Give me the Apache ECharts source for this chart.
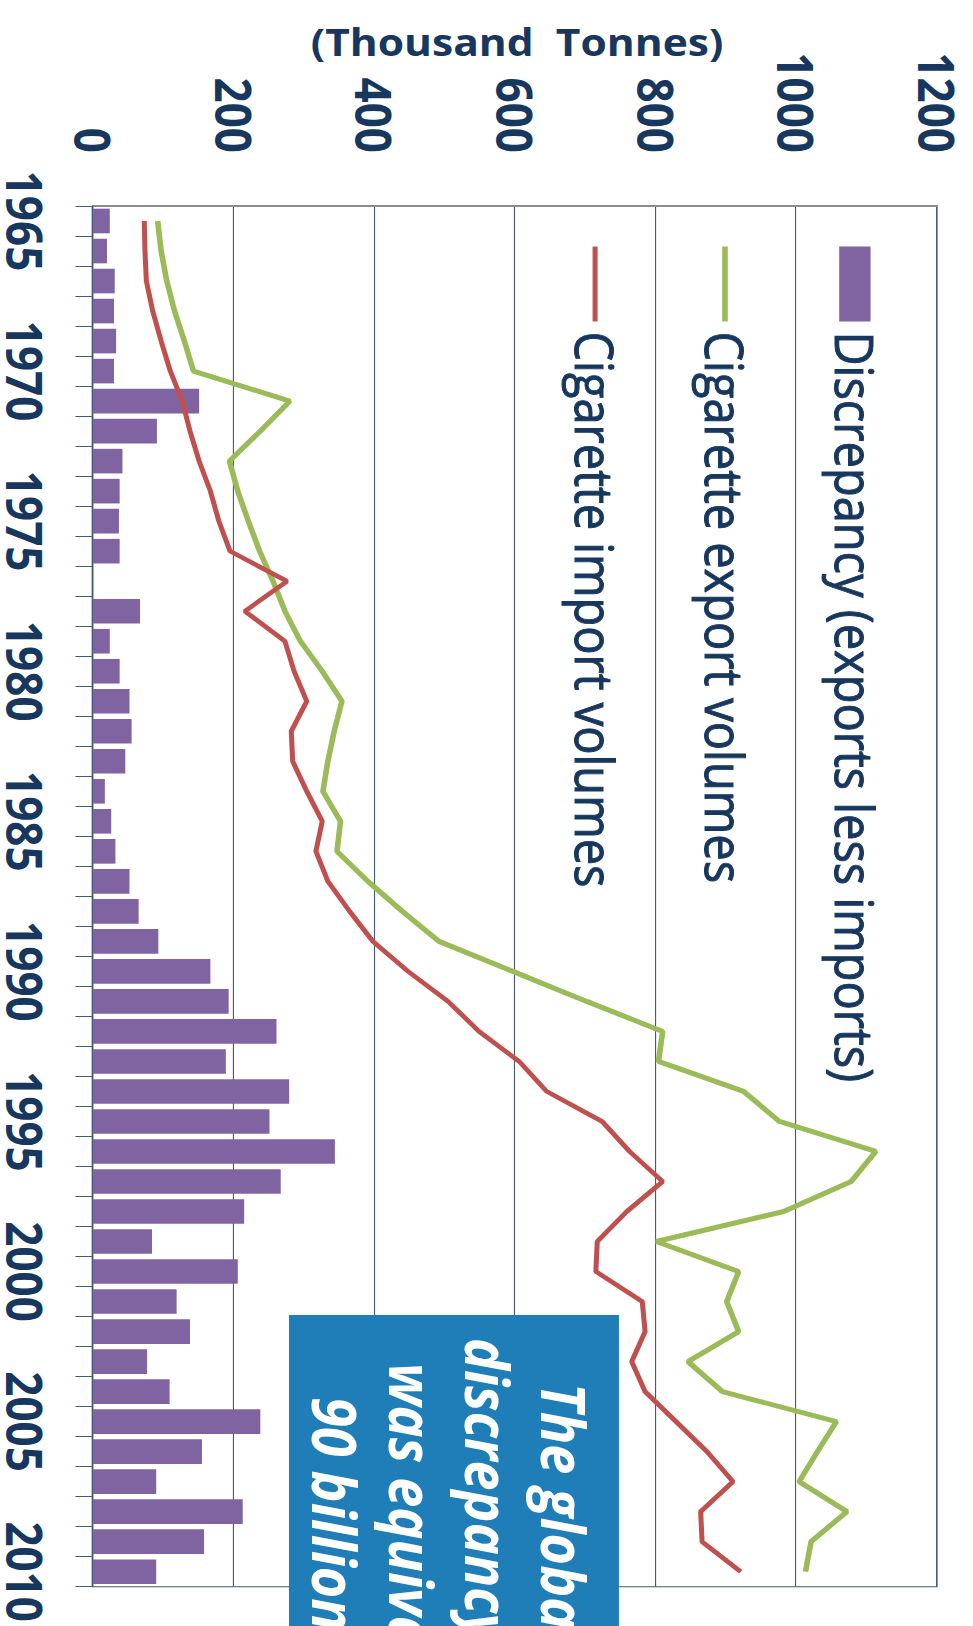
<!DOCTYPE html>
<html>
<head>
<meta charset="utf-8">
<script src="https://cdn.jsdelivr.net/npm/echarts@6/dist/echarts.min.js"></script>
<style>
html,body{margin:0;padding:0;overflow:hidden;background:#fff;width:973px;height:1626px;}
#wrap{position:absolute;left:0;top:0;width:1626px;height:869px;transform-origin:0 0;
transform:translateX(973px) rotate(90deg) scale(1,1.1197);}
</style>
</head>
<body>
<div id="wrap"></div>
<script>
const years = ['1965','1966','1967','1968','1969','1970','1971','1972','1973','1974',
  '1975','1976','1977','1978','1979','1980','1981','1982','1983','1984',
  '1985','1986','1987','1988','1989','1990','1991','1992','1993','1994',
  '1995','1996','1997','1998','1999','2000','2001','2002','2003','2004',
  '2005','2006','2007','2008','2009','2010'];
const discrepancy = [24,20,31,30,33,30,151,91,42,38,
  37,38,0,67,24,38,52,55,46,17,
  26,32,52,65,93,167,193,261,189,279,
  251,344,267,215,84,206,119,138,77,109,
  238,155,90,213,158,90];
const exportsVol = [92,97,105,116,130,143,280,238,194,206,
  221,237,256,273,295,326,354,343,334,327,
  352,347,391,440,492,597,702,810,804,925,
  976,1113,1078,982,801,918,901,918,846,895,
  1057,1030,1004,1072,1021,1013];
const importsVol = [73,74,76,85,97,110,127,138,151,167,
  179,195,276,216,273,286,304,282,284,304,
  326,317,334,365,398,448,505,549,606,645,
  724,763,810,759,717,715,781,785,766,785,
  829,873,910,864,866,921];
const seriesNames = ['Discrepancy (exports less imports)','Cigarette export volumes','Cigarette import volumes'];
const axisTitle = '(Thousand  Tonnes)';
const noteLines = ['The global','discrepancy in 2010','was equivalent to','90 billion cigarettes'];

const navy = '#17375E';
const gridCol = '#46597A';
const font = "'Open Sans', 'Noto Sans', sans-serif";

const chart = echarts.init(document.getElementById('wrap'), null, {renderer:'svg', width:1626, height:869});
chart.setOption({
  animation:false,
  backgroundColor:'#ffffff',
  grid:{left:206, right:39.3, top:32.15, bottom:79.1, show:true, borderColor:gridCol, borderWidth:1, containLabel:false},
  legend:{
    orient:'vertical', left:239, top:76.5, itemWidth:75, itemHeight:28, itemGap:68,
    lineStyle:{width:'inherit'},
    textStyle:{fontFamily:font, fontWeight:'normal', fontSize:47, color:navy, lineHeight:48, padding:[0,0,0,5],
      textBorderColor:navy, textBorderWidth:0.9},
    data:[
      {name:seriesNames[0], icon:'rect'},
      {name:seriesNames[1], itemStyle:{opacity:0}},
      {name:seriesNames[2], itemStyle:{opacity:0}}
    ]
  },
  xAxis:{
    type:'category', data:years, boundaryGap:true,
    axisLine:{show:true, lineStyle:{color:gridCol, width:1}},
    axisTick:{show:true, interval:0, length:15.6, lineStyle:{color:gridCol, width:1}},
    axisLabel:{interval:4, margin:39, fontFamily:font, fontWeight:'bold', fontSize:44, color:navy}
  },
  yAxis:{
    type:'value', min:0, max:1200, interval:200,
    axisLine:{show:true, lineStyle:{color:'#8c8c8c', width:2}},
    axisTick:{show:false},
    splitLine:{show:true, lineStyle:{color:gridCol, width:1}},
    axisLabel:{margin:53, fontFamily:font, fontWeight:'bold', fontSize:44, color:navy,
      formatter:function(v){return String(v);}}
  },
  series:[
    {name:seriesNames[0], type:'bar', data:discrepancy, barCategoryGap:'18%', itemStyle:{color:'#8064A2'}},
    {name:seriesNames[1], type:'line', data:exportsVol, symbol:'none', lineStyle:{color:'#9BBB59', width:5}, itemStyle:{color:'#9BBB59'}},
    {name:seriesNames[2], type:'line', data:importsVol, symbol:'none', lineStyle:{color:'#C0504D', width:4.5}, itemStyle:{color:'#C0504D'}}
  ],
  graphic:[
    {type:'text', x:41, y:407.2, rotation:Math.PI/2, z:10,
      style:{text:axisTitle, fontFamily:font, fontWeight:'bold', fontSize:38, fill:navy, align:'center', verticalAlign:'middle'}},
    {type:'rect', shape:{x:1315, y:316.2, width:330, height:294.7}, style:{fill:'#1F7DB8'}, z:20},
    {type:'text', x:1383, y:365.2, z:21, style:{text:noteLines[0], fontFamily:font, fontWeight:'bold', fontStyle:'italic', fontSize:54, fill:'#ffffff', align:'left', verticalAlign:'middle'}},
    {type:'text', x:1338, y:433.2, z:21, style:{text:noteLines[1], fontFamily:font, fontWeight:'bold', fontStyle:'italic', fontSize:54, fill:'#ffffff', align:'left', verticalAlign:'middle'}},
    {type:'text', x:1363, y:501.2, z:21, style:{text:noteLines[2], fontFamily:font, fontWeight:'bold', fontStyle:'italic', fontSize:54, fill:'#ffffff', align:'left', verticalAlign:'middle'}},
    {type:'text', x:1397, y:569.2, z:21, style:{text:noteLines[3], fontFamily:font, fontWeight:'bold', fontStyle:'italic', fontSize:54, fill:'#ffffff', align:'left', verticalAlign:'middle'}}
  ]
});
</script>
</body>
</html>
